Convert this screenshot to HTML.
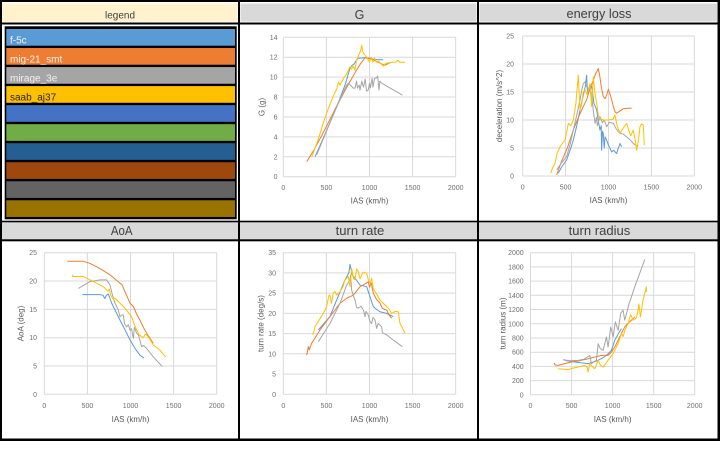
<!DOCTYPE html>
<html><head><meta charset="utf-8"><style>
html,body{margin:0;padding:0;background:#fff;width:722px;height:457px;overflow:hidden}
svg{display:block}
text{font-family:"Liberation Sans","Noto Sans CJK JP",sans-serif}
.t{font-size:7px;fill:#6f6f6f}
.ax{font-size:8px;fill:#595959}
.hd{fill:#404040;font-size:12.5px}
.g{stroke:#d9d9d9;stroke-width:1;fill:none}
.s{fill:none;stroke-width:1;vector-effect:non-scaling-stroke;stroke-linejoin:round}
.b{stroke:#5B9BD5}.o{stroke:#ED7D31}.y{stroke:#FFC000}.r{stroke:#A5A5A5}
.lg{font-size:10px}
</style></head><body>
<svg width="722" height="457" viewBox="0 0 722 457" xmlns="http://www.w3.org/2000/svg">
<rect x="0" y="0" width="722" height="457" fill="#fff"/>
<rect x="0" y="0" width="720" height="441" fill="#000"/>
<rect x="2" y="2" width="236" height="20.5" fill="#fff"/>
<rect x="240" y="2" width="237" height="20.5" fill="#fff"/>
<rect x="479" y="2" width="238.5" height="20.5" fill="#fff"/>
<rect x="2" y="3.5" width="235.5" height="18" fill="#FFF2CC"/>
<rect x="240.5" y="3.5" width="236" height="18" fill="#D9D9D9"/>
<rect x="479.5" y="3.5" width="237.5" height="18" fill="#D9D9D9"/>
<rect x="2" y="24.5" width="236" height="196.2" fill="#fff"/>
<rect x="240" y="24.5" width="237" height="196.2" fill="#fff"/>
<rect x="479" y="24.5" width="238.5" height="196.2" fill="#fff"/>
<rect x="2" y="222.3" width="236" height="17" fill="#D9D9D9"/>
<rect x="240" y="222.3" width="237" height="17" fill="#D9D9D9"/>
<rect x="479" y="222.3" width="238.5" height="17" fill="#D9D9D9"/>
<rect x="2" y="241.3" width="236" height="197.2" fill="#fff"/>
<rect x="240" y="241.3" width="237" height="197.2" fill="#fff"/>
<rect x="479" y="241.3" width="238.5" height="197.2" fill="#fff"/>

<text x="120" y="18.5" text-anchor="middle" style="font-size:10px;fill:#404040">legend</text>
<text x="359.5" y="19" text-anchor="middle" class="hd">G</text>
<text x="599" y="18" text-anchor="middle" class="hd" textLength="65" lengthAdjust="spacingAndGlyphs">energy loss</text>
<text x="121.7" y="235" text-anchor="middle" class="hd" textLength="21.7" lengthAdjust="spacingAndGlyphs">AoA</text>
<text x="360" y="235" text-anchor="middle" class="hd" textLength="48.7" lengthAdjust="spacingAndGlyphs">turn rate</text>
<text x="599.5" y="235" text-anchor="middle" class="hd" textLength="61.7" lengthAdjust="spacingAndGlyphs">turn radius</text>

<rect x="4.7" y="26.3" width="232" height="193" fill="#000"/>
<rect x="6.3" y="29" width="228.7" height="16.7" fill="#5B9BD5"/>
<rect x="6.3" y="48.03" width="228.7" height="16.7" fill="#ED7D31"/>
<rect x="6.3" y="67.06" width="228.7" height="16.7" fill="#A5A5A5"/>
<rect x="6.3" y="86.09" width="228.7" height="16.7" fill="#FFC000"/>
<rect x="6.3" y="105.12" width="228.7" height="16.7" fill="#4472C4"/>
<rect x="6.3" y="124.15" width="228.7" height="16.7" fill="#70AD47"/>
<rect x="6.3" y="143.18" width="228.7" height="16.7" fill="#255E91"/>
<rect x="6.3" y="162.21" width="228.7" height="16.7" fill="#9E480E"/>
<rect x="6.3" y="181.24" width="228.7" height="16.7" fill="#636363"/>
<rect x="6.3" y="200.27" width="228.7" height="16.7" fill="#997300"/>
<text x="10" y="43.3" class="lg" fill="#f2f2f2">f-5c</text>
<text x="10" y="62.3" class="lg" fill="#f2f2f2">mig-21_smt</text>
<text x="10" y="81.4" class="lg" fill="#f2f2f2">mirage_3e</text>
<text x="10" y="100.4" class="lg" fill="#262626">saab_aj37</text>

<!-- G -->
<path class="g" d="M283.3 37.3V176.7M326.4 37.3V176.7M369.5 37.3V176.7M412.6 37.3V176.7M455.7 37.3V176.7
M283.3 37.3H455.7M283.3 57.21H455.7M283.3 77.13H455.7M283.3 97.04H455.7M283.3 116.96H455.7M283.3 136.87H455.7M283.3 156.79H455.7M283.3 176.7H455.7"/>
<g class="t" text-anchor="end">
<text x="277.5" y="39.8">14</text><text x="277.5" y="59.7">12</text><text x="277.5" y="79.6">10</text><text x="277.5" y="99.5">8</text><text x="277.5" y="119.5">6</text><text x="277.5" y="139.4">4</text><text x="277.5" y="159.3">2</text><text x="277.5" y="179.2">0</text>
</g>
<g class="t" text-anchor="middle">
<text x="283.3" y="190">0</text><text x="326.4" y="190">500</text><text x="369.5" y="190">1000</text><text x="412.6" y="190">1500</text><text x="455.7" y="190">2000</text>
</g>
<text x="369.5" y="203.5" class="ax" text-anchor="middle">IAS (km/h)</text>
<text transform="translate(264.5,107) rotate(-90)" class="ax" text-anchor="middle">G (g)</text>
<g transform="translate(283.3,176.7) scale(0.0862,-9.957)">
<polyline class="s b" points="368,2 450,3.6 550,5.6 650,7.7 720,9.3 774,10.9 800,11.2 820,11.3 840,11.6 870,11.9 950,11.95 1000,11.9 1050,11.8 1100,11.75 1160,11.75"/>
<polyline class="s o" points="271,1.5 350,2.6 450,4.2 550,5.9 650,7.6 750,9.2 850,10.7 900,11.4 950,11.95 1000,11.85 1050,11.7 1100,11.5 1150,11.3 1180,11.2 1250,11.5"/>
<polyline class="s r" points="387,2.2 450,3.5 550,5.6 650,7.6 735,9.2 755,9.4 780,9.2 810,8.9 832,8.9 850,9.6 860,8.9 880,9.2 890,8.7 910,9.6 930,9.0 950,9.8 965,8.6 985,8.7 1000,9.4 1010,8.9 1030,9.9 1040,9.0 1060,9.9 1080,9.9 1095,10.1 1110,8.7 1120,9.6 1140,9.4 1200,9.1 1300,8.6 1381,8.2"/>
<polyline class="s y" points="330,2 400,3.6 464,5.4 520,6.8 580,8.1 620,8.8 640,9.5 658,9.2 700,9.9 735,10.3 770,11 790,10.8 813,11.1 830,10.7 850,11.7 880,12.3 895,12.6 910,13.2 920,12.6 937,12.3 968,12.0 1000,11.5 1020,12.0 1040,11.5 1060,11.9 1080,11.5 1100,11.6 1130,11.4 1160,11.1 1175,11.3 1200,11.4 1260,11.5 1300,11.5 1330,11.7 1350,11.5 1412,11.5"/>
</g>

<!-- energy loss -->
<path class="g" d="M522.7 36V176M565.6 36V176M608.5 36V176M651.4 36V176M694.3 36V176
M522.7 36H694.3M522.7 64H694.3M522.7 92H694.3M522.7 120H694.3M522.7 148H694.3M522.7 176H694.3"/>
<g class="t" text-anchor="end">
<text x="514" y="38.5">25</text><text x="514" y="66.5">20</text><text x="514" y="94.5">15</text><text x="514" y="122.5">10</text><text x="514" y="150.5">5</text><text x="514" y="178.5">0</text>
</g>
<g class="t" text-anchor="middle">
<text x="522.7" y="189.5">0</text><text x="565.6" y="189.5">500</text><text x="608.5" y="189.5">1000</text><text x="651.4" y="189.5">1500</text><text x="694.3" y="189.5">2000</text>
</g>
<text x="608.5" y="203" class="ax" text-anchor="middle">IAS (km/h)</text>
<text transform="translate(502.2,106) rotate(-90)" class="ax" text-anchor="middle">deceleration (m/s^2)</text>
<g transform="translate(522.7,176) scale(0.0858,-5.6)">
<polyline class="s b" points="415,0.5 450,1.5 513,2.9 550,4.5 590,6.4 630,9 668,11.8 700,14 730,16 745,18 755,15 765,14.8 785,15.5 804,16 830,13 862,11.8 880,10 900,8.2 915,9.0 920,4.6 930,8.0 939,7.6 950,5 960,7 979,6.4 1000,5.5 1037,4.3 1060,4.6 1095,4.0 1110,4.8 1134,5.8 1153,5.2"/>
<polyline class="s o" points="396,0.2 450,2.5 520,5.0 590,8.2 650,10.5 700,12.2 745,13.6 780,15.5 823,17.1 850,18.3 870,18.8 881,19.2 890,18.5 900,17.7 915,16.0 939,14.2 960,13.8 980,14.5 998,15.5 1020,14.5 1037,13.6 1056,12.4 1075,11.5 1095,11.2 1130,11.6 1173,12.0 1220,12.1 1270,12.1"/>
<polyline class="s r" points="396,1.1 450,2.3 513,3.5 550,5.5 590,8.2 630,10.9 668,13.6 690,15.5 706,16.5 725,16.8 745,16 770,15.5 804,14.8 820,12 843,9.4 860,10.5 870,9.0 900,10.6 930,9.5 950,10 979,8.8 1010,9.6 1056,9.4 1090,8.4 1134,7.6 1170,7.5 1211,7.0 1250,6.5 1289,5.8 1320,5.5 1347,5.4"/>
<polyline class="s y" points="326,0.5 350,1.5 377,2.3 400,4.0 435,5.2 470,6.0 493,6.4 515,8.0 532,9.4 560,9.0 590,10 620,13 648,18 668,11.8 690,13 705,15 726,15.4 750,14.5 784,16.5 804,12.4 823,17.7 840,15 862,13 880,11 900,10.2 950,10.0 1000,10.0 1056,10.2 1076,10.9 1100,9.0 1134,7.6 1170,8.5 1211,9.4 1240,8.0 1260,7.2 1289,8.2 1310,6.5 1328,4.6 1350,6.5 1367,8.8 1385,9.3 1406,9.1 1417,5.5"/>
</g>

<!-- AoA -->
<path class="g" d="M44.3 252.7V394.3M87.4 252.7V394.3M130.5 252.7V394.3M173.6 252.7V394.3M216.7 252.7V394.3
M44.3 252.7H216.7M44.3 281H216.7M44.3 309.4H216.7M44.3 337.7H216.7M44.3 366H216.7M44.3 394.3H216.7"/>
<g class="t" text-anchor="end">
<text x="37" y="255.2">25</text><text x="37" y="283.5">20</text><text x="37" y="311.9">15</text><text x="37" y="340.2">10</text><text x="37" y="368.5">5</text><text x="37" y="396.8">0</text>
</g>
<g class="t" text-anchor="middle">
<text x="44.3" y="408">0</text><text x="87.4" y="408">500</text><text x="130.5" y="408">1000</text><text x="173.6" y="408">1500</text><text x="216.7" y="408">2000</text>
</g>
<text x="130.5" y="422" class="ax" text-anchor="middle">IAS (km/h)</text>
<text transform="translate(23.5,323.5) rotate(-90)" class="ax" text-anchor="middle">AoA (deg)</text>
<g transform="translate(44.3,394.3) scale(0.0862,-5.664)">
<polyline class="s b" points="441,17.6 646,17.6 680,17.5 704,16.9 720,17.5 743,17.7 760,17.0 781,16.1 820,14.9 878,13.1 936,11.4 994,9.6 1052,8.1 1110,6.9 1157,6.4"/>
<polyline class="s o" points="267,23.5 453,23.5 530,23.1 646,22.2 762,21.1 878,19.6 900,19.4 936,18.1 994,16.1 1033,15.5 1070,14.2 1110,13.1 1150,11.8 1187,10.8 1220,10.0 1265,9.0"/>
<polyline class="s r" points="395,18.7 530,19.9 646,20.2 723,20.2 762,19.3 781,18.1 800,17 820,16.1 840,15.5 860,14.8 878,13.7 900,14.0 917,14.0 930,12.5 955,11.9 975,12.3 995,11.3 1013,11.6 1025,10.4 1033,9.9 1045,11.8 1052,11.6 1070,10.8 1091,10.5 1110,9.5 1129,8.4 1150,8.6 1187,8.1 1265,6.6 1369,4.9"/>
<polyline class="s y" points="329,21.1 329,20.8 453,20.8 569,19.9 685,19 740,18.2 754,18.6 770,17.5 781,17.2 800,16.8 820,17.0 832,16.8 878,16.1 936,15.2 1013,13.7 1040,12.5 1071,11.4 1100,10.5 1129,10.2 1150,10.0 1170,10.6 1187,10.5 1220,9.8 1265,8.7 1342,7.8 1408,6.6"/>
</g>

<!-- turn rate -->
<path class="g" d="M283.3 252.7V394.3M326.4 252.7V394.3M369.5 252.7V394.3M412.6 252.7V394.3M455.7 252.7V394.3
M283.3 252.7H455.7M283.3 272.9H455.7M283.3 293.1H455.7M283.3 313.4H455.7M283.3 333.6H455.7M283.3 353.8H455.7M283.3 374.1H455.7M283.3 394.3H455.7"/>
<g class="t" text-anchor="end">
<text x="276" y="255.2">35</text><text x="276" y="275.4">30</text><text x="276" y="295.6">25</text><text x="276" y="315.9">20</text><text x="276" y="336.1">15</text><text x="276" y="356.3">10</text><text x="276" y="376.6">5</text><text x="276" y="396.8">0</text>
</g>
<g class="t" text-anchor="middle">
<text x="283.3" y="408">0</text><text x="326.4" y="408">500</text><text x="369.5" y="408">1000</text><text x="412.6" y="408">1500</text><text x="455.7" y="408">2000</text>
</g>
<text x="369.5" y="422" class="ax" text-anchor="middle">IAS (km/h)</text>
<text transform="translate(263.5,323.5) rotate(-90)" class="ax" text-anchor="middle">turn rate (deg/s)</text>
<g transform="translate(283.3,394.3) scale(0.0862,-4.046)">
<polyline class="s b" points="406,15.9 541,19.2 619,23.3 716,28.3 760,30 774,32.1 800,29.5 832,28.7 890,27 967,26.6 1000,24.5 1044,21.7 1080,21.0 1122,20.4 1199,20 1276,19.2"/>
<polyline class="s o" points="271,9.7 280,10.5 290,11.8 300,11.0 329,12.6 425,15.9 541,19.2 658,22.5 740,23.8 812,24.5 850,25.5 890,26.6 950,27.3 986,27.8 1000,26.5 1020,27.5 1044,25 1080,23.5 1122,22.5 1150,21.2 1199,20.8 1230,19.5 1257,18.8"/>
<polyline class="s r" points="406,13 541,17.5 658,22.5 735,27 774,28.3 780,29.5 793,25.8 810,24.5 832,23.3 850,21.5 870,21.3 900,21.8 929,20.8 948,19.2 960,20.5 986,19.6 1005,18 1025,17.5 1040,19 1064,18.4 1083,16.3 1100,17.5 1141,16.7 1150,15.2 1199,14.7 1276,13.4 1381,11.8"/>
<polyline class="s y" points="340,14.7 355,15.5 367,16.7 420,18.5 464,20 500,21.5 530,24.5 541,24.5 560,22.5 580,25 600,25.4 620,24.5 658,25.4 690,26.5 716,28.3 754,29.1 774,26.6 793,31.1 815,28.5 832,28.3 850,31 870,30.3 890,28.5 909,29.5 930,30.2 967,29.9 990,28 1006,27.4 1025,28.7 1045,26 1064,25.4 1090,24.5 1122,23.3 1160,22.5 1199,21.7 1230,21 1257,20 1300,20.5 1334,20.4 1354,17.5 1380,16.5 1412,15.1"/>
</g>

<!-- turn radius -->
<path class="g" d="M530.5 252.7V394.8M571.6 252.7V394.8M612.6 252.7V394.8M653.7 252.7V394.8M694.7 252.7V394.8
M530.5 252.7H694.7M530.5 266.9H694.7M530.5 281.1H694.7M530.5 295.3H694.7M530.5 309.5H694.7M530.5 323.8H694.7M530.5 338H694.7M530.5 352.2H694.7M530.5 366.4H694.7M530.5 380.6H694.7M530.5 394.8H694.7"/>
<g class="t" text-anchor="end">
<text x="523.7" y="255.2">2000</text><text x="523.7" y="269.4">1800</text><text x="523.7" y="283.6">1600</text><text x="523.7" y="297.8">1400</text><text x="523.7" y="312">1200</text><text x="523.7" y="326.3">1000</text><text x="523.7" y="340.5">800</text><text x="523.7" y="354.7">600</text><text x="523.7" y="368.9">400</text><text x="523.7" y="383.1">200</text><text x="523.7" y="397.3">0</text>
</g>
<g class="t" text-anchor="middle">
<text x="530.5" y="408">0</text><text x="571.6" y="408">500</text><text x="612.6" y="408">1000</text><text x="653.7" y="408">1500</text><text x="694.7" y="408">2000</text>
</g>
<text x="612.6" y="422" class="ax" text-anchor="middle">IAS (km/h)</text>
<text transform="translate(505.5,323.5) rotate(-90)" class="ax" text-anchor="middle">turn radius (m)</text>
<g transform="translate(530.5,394.8) scale(0.0821,-0.07105)">
<polyline class="s b" points="398,494 440,480 540,461 620,450 702,438 760,460 824,485 880,520 925,555 986,626 1026,767 1070,860 1108,932"/>
<polyline class="s o" points="288,447 300,420 337,414 420,440 499,461 600,480 702,508 780,530 864,555 945,555 986,602 1030,680 1067,767 1110,870 1148,955 1190,1010 1229,1049 1270,1096"/>
<polyline class="s r" points="398,494 480,480 580,485 650,500 722,555 742,438 780,470 803,485 824,720 850,650 884,626 925,814 945,673 978,955 1006,814 1034,1026 1067,908 1100,1150 1128,1191 1148,1049 1200,1280 1270,1520 1392,1906"/>
<polyline class="s y" points="337,367 400,360 458,353 520,375 580,391 661,414 690,390 702,320 722,438 750,400 783,367 824,485 850,420 884,391 945,485 1006,579 1067,720 1108,861 1130,820 1148,908 1189,1002 1220,1130 1250,1049 1290,1080 1310,1191 1320,1280 1339,1096 1371,1332 1392,1426 1412,1520 1412,1449"/>
</g>
</svg>
</body></html>
